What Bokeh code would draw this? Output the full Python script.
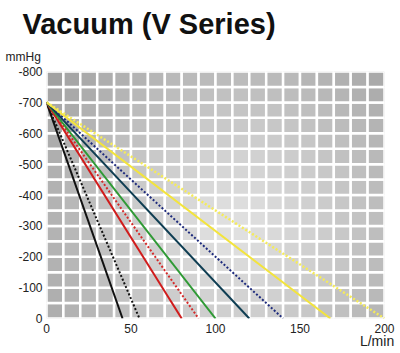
import numpy as np
from bokeh.plotting import figure
from bokeh.models import Range1d, FixedTicker, ColumnDataSource, Title, LinearAxis
from bokeh.embed import file_html
from bokeh.resources import INLINE

# ---- data ----
start_vacuum = -700                         # mmHg at zero flow (all lines)
max_flow = [45, 55, 80, 90, 100, 120, 140, 168, 200]   # L/min at 0 mmHg
line_colors = ["#111111", "#111111", "#d01c1c", "#d42a2a", "#2f9a35",
               "#0e3d52", "#1d2a7c", "#f3e43c", "#f5eb5a"]
line_dashes = ["solid", "2 2", "solid", "2 2", "solid", "solid", "2 2", "solid", "2 2"]
x_ticks = [0, 50, 100, 150, 200]
y_ticks = [0, -100, -200, -300, -400, -500, -600, -700, -800]
y_tick_labels = ["0", "-100", "-200", "-300", "-400", "-500", "-600", "-700", "-800"]

W, H = 400, 353
L, R, T, B = 46, 16, 71, 35
fw, fh = W - L - R, H - T - B

font = "'Liberation Sans Narrow', 'Liberation Sans', Arial, sans-serif"

p = figure(width=W, height=H, output_backend="svg", toolbar_location=None,
           x_range=Range1d(0, 200), y_range=Range1d(0, -800),
           min_border_left=L, min_border_right=R, min_border_top=T, min_border_bottom=B,
           background_fill_color="white", border_fill_color="white")
p.outline_line_color = None
p.xgrid.visible = False
p.ygrid.visible = False

# background cells with a radial gray gradient (style)
cx = np.arange(5, 200, 10)
cy = -np.arange(25, 800, 50)
XX, YY = np.meshgrid(cx, cy)
XX = XX.ravel(); YY = YY.ravel()
px = L + XX / 200 * fw
py = T + fh + YY / 800 * fh
d = np.hypot(px - 232, py - 228) / 245
v = (226 - 68 * np.clip(d, 0, 1) ** 1.2).astype(int)
cols = ["#%02x%02x%02x" % (g, g, g) for g in v]
src = ColumnDataSource(dict(x=XX, y=YY, c=cols))
p.rect(x="x", y="y", width=10, height=50, source=src, fill_color="c",
       line_color="white", line_width=2.5)

for f, c, ds in zip(max_flow, line_colors, line_dashes):
    p.line([0, f], [start_vacuum, 0], line_color=c,
           line_width=2.5 if c == "#f5eb5a" else 2, line_dash=ds)


def style_axis(ax):
    ax.axis_line_color = None
    ax.major_tick_line_color = None
    ax.minor_tick_line_color = None
    ax.major_tick_out = 0
    ax.major_tick_in = 0
    ax.minor_tick_out = 0
    ax.minor_tick_in = 0
    ax.major_label_text_font = font
    ax.major_label_text_font_size = "12px"
    ax.major_label_text_color = "#222222"

style_axis(p.xaxis[0]); style_axis(p.yaxis[0])
p.xaxis.ticker = FixedTicker(ticks=x_ticks)
p.yaxis.ticker = FixedTicker(ticks=y_ticks)
p.yaxis.major_label_overrides = {t: s for t, s in zip(y_ticks, y_tick_labels)}
p.xaxis.major_label_standoff = 5
p.yaxis.major_label_standoff = 4

# unit label under the x axis
unit_ax = LinearAxis(ticker=FixedTicker(ticks=[195.6]),
                     major_label_overrides={195.6: "L/min"})
style_axis(unit_ax)
unit_ax.major_label_text_font_size = "14px"
unit_ax.major_label_standoff = -3
p.add_layout(unit_ax, "below")

p.title = Title(text="Vacuum (V Series)", text_font="Liberation Sans",
                text_font_style="bold", text_font_size="29px",
                text_color="#111111", align="left", offset=-24, standoff=0)
p.add_layout(Title(text="mmHg", text_font=font, text_font_size="12px",
                   text_font_style="normal", text_color="#222222",
                   align="left", offset=-41, standoff=16), "above")

open("out.html", "w").write(file_html(p, INLINE))
